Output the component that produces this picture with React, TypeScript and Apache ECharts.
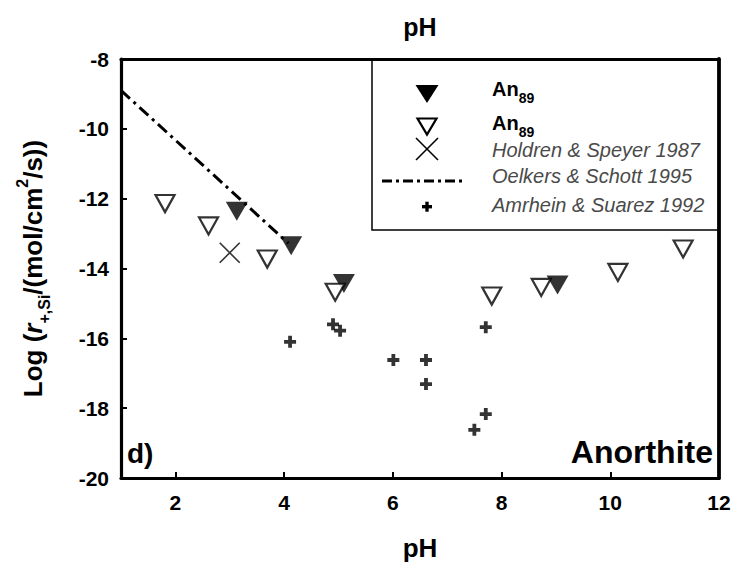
import React, { useEffect, useRef } from "react";
import * as echarts from "echarts";

// pH / log rate pairs for each data set
const filledAn89: number[][] = [
  [3.13, -12.36],
  [4.13, -13.35],
  [5.1, -14.43],
  [9.03, -14.47],
];
const openAn89: number[][] = [
  [1.81, -12.14],
  [2.61, -12.78],
  [3.69, -13.73],
  [4.94, -14.68],
  [7.82, -14.79],
  [8.73, -14.54],
  [10.14, -14.11],
  [11.34, -13.44],
];
const holdrenSpeyer: number[][] = [[3.0, -13.55]];
const oelkersSchott: number[][] = [
  [1.0, -8.9],
  [4.08, -13.28],
];
const amrheinSuarez: number[][] = [
  [4.11, -16.1],
  [4.9, -15.6],
  [5.03, -15.78],
  [6.01, -16.62],
  [6.61, -16.62],
  [6.61, -17.31],
  [7.71, -15.68],
  [7.71, -18.17],
  [7.5, -18.62],
];

const xTickValues = [2, 4, 6, 8, 10];
const xLabelValues = [2, 4, 6, 8, 10, 12];

const FONT = "'Liberation Sans', Arial, Helvetica, sans-serif";

const TRI_DOWN = "path://M0,0L22,0L11,19Z";
const PLUS = "path://M4.1,0H7.9V4.1H12V7.9H7.9V12H4.1V7.9H0V4.1H4.1Z";
const CROSS = "path://M0,0L10,10M10,0L0,10";

export default function App() {
  const ref = useRef<HTMLDivElement>(null);

  useEffect(() => {
    if (!ref.current) return;
    const chart = echarts.init(ref.current, undefined, { renderer: "svg" });

    const legendX = 427;
    const textX = 492;
    const italicStyle = {
      fontFamily: FONT,
      fontStyle: "italic",
      fontSize: 20,
      fill: "#4a4a4a",
      verticalAlign: "middle",
    };
    const anLabel = (y: number) => ({
      type: "text",
      x: textX,
      y,
      style: {
        text: "{b|An}{s|89}",
        fill: "#000",
        verticalAlign: "middle",
        rich: {
          b: { fontFamily: FONT, fontWeight: "bold", fontSize: 20, fill: "#000", lineHeight: 26, verticalAlign: "top" },
          s: { fontFamily: FONT, fontWeight: "bold", fontSize: 14, fill: "#000", lineHeight: 26, verticalAlign: "bottom" },
        },
      },
    });

    chart.setOption({
      animation: false,
      backgroundColor: "#fff",
      grid: { left: 121, right: 16, top: 59, bottom: 90, containLabel: false, outerBoundsMode: "none" },
      xAxis: [
        {
          type: "value",
          position: "bottom",
          min: 1,
          max: 12,
          splitLine: { show: false },
          axisLine: { show: true, lineStyle: { color: "#000", width: 3.2 } },
          axisTick: { show: true, inside: true, length: 6, lineStyle: { color: "#000", width: 2 }, customValues: xTickValues },
          axisLabel: {
            customValues: xLabelValues,
            margin: 14,
            color: "#000",
            fontFamily: FONT,
            fontWeight: "bold",
            fontSize: 21,
          },
          name: "pH",
          nameLocation: "middle",
          nameGap: 57,
          nameTextStyle: { color: "#000", fontFamily: FONT, fontWeight: "bold", fontSize: 26 },
        },
        {
          type: "value",
          position: "top",
          min: 1,
          max: 12,
          splitLine: { show: false },
          axisLine: { show: true, lineStyle: { color: "#000", width: 3.2 } },
          axisTick: { show: false },
          axisLabel: { show: false },
          name: "pH",
          nameLocation: "middle",
          nameGap: 20,
          nameTextStyle: { color: "#000", fontFamily: FONT, fontWeight: "bold", fontSize: 25 },
        },
      ],
      yAxis: [
        {
          type: "value",
          position: "left",
          min: -20,
          max: -8,
          interval: 2,
          splitLine: { show: false },
          axisLine: { show: true, lineStyle: { color: "#000", width: 3.2 } },
          axisTick: { show: true, inside: true, length: 6, lineStyle: { color: "#000", width: 2 } },
          axisLabel: { margin: 12, color: "#000", fontFamily: FONT, fontWeight: "bold", fontSize: 21 },
          name: "{m|Log (}{i|r}{sub|+,Si}{m|/(mol/cm}{sup|2}{m|/s))}",
          nameLocation: "middle",
          nameGap: 69,
          nameRotate: 90,
          nameTextStyle: {
            color: "#000",
            fontFamily: FONT,
            fontWeight: "bold",
            fontSize: 26,
            rich: {
              m: { fontFamily: FONT, fontWeight: "bold", fontSize: 26, color: "#000", lineHeight: 38, verticalAlign: "middle" },
              i: { fontFamily: FONT, fontWeight: "bold", fontStyle: "italic", fontSize: 26, color: "#000", lineHeight: 38, verticalAlign: "middle" },
              sub: { fontFamily: FONT, fontWeight: "bold", fontSize: 16, color: "#000", lineHeight: 38, verticalAlign: "bottom" },
              sup: { fontFamily: FONT, fontWeight: "bold", fontSize: 16, color: "#000", lineHeight: 38, verticalAlign: "top" },
            },
          },
        },
        {
          type: "value",
          position: "right",
          min: -20,
          max: -8,
          interval: 2,
          splitLine: { show: false },
          axisLine: { show: true, lineStyle: { color: "#000", width: 3.8 } },
          axisTick: { show: false },
          axisLabel: { show: false },
        },
      ],
      series: [
        {
          name: "Oelkers & Schott 1995",
          type: "line",
          data: oelkersSchott,
          symbol: "none",
          lineStyle: { color: "#000", width: 3, type: [12, 5, 3, 5] },
          z: 2,
        },
        {
          name: "Amrhein & Suarez 1992",
          type: "scatter",
          data: amrheinSuarez,
          symbol: PLUS,
          symbolSize: 12,
          itemStyle: { color: "#000" },
          z: 3,
        },
        {
          name: "Holdren & Speyer 1987",
          type: "scatter",
          data: holdrenSpeyer,
          symbol: CROSS,
          symbolSize: 20,
          itemStyle: { color: "none", borderColor: "#000", borderWidth: 1.6 },
          z: 3,
        },
        {
          name: "An89 filled",
          type: "scatter",
          data: filledAn89,
          symbol: TRI_DOWN,
          symbolSize: [22, 19],
          itemStyle: { color: "#000" },
          z: 4,
        },
        {
          name: "An89 open",
          type: "scatter",
          data: openAn89,
          symbol: TRI_DOWN,
          symbolSize: [19, 17],
          itemStyle: { color: "#fff", borderColor: "#000", borderWidth: 2.2 },
          z: 5,
        },
      ],
      graphic: [
        {
          type: "rect",
          shape: { x: 372, y: 59, width: 347, height: 171 },
          style: { fill: "none", stroke: "#000", lineWidth: 1.5 },
        },
        {
          type: "polygon",
          shape: { points: [[415.5, 85], [438.5, 85], [427, 103]] },
          style: { fill: "#000" },
        },
        {
          type: "polygon",
          shape: { points: [[417.5, 118.5], [436.5, 118.5], [427, 134.5]] },
          style: { fill: "#fff", stroke: "#000", lineWidth: 2.2 },
        },
        {
          type: "line",
          shape: { x1: legendX - 11, y1: 138, x2: legendX + 11, y2: 160 },
          style: { stroke: "#000", lineWidth: 1.6 },
        },
        {
          type: "line",
          shape: { x1: legendX + 11, y1: 138, x2: legendX - 11, y2: 160 },
          style: { stroke: "#000", lineWidth: 1.6 },
        },
        {
          type: "line",
          shape: { x1: 382, y1: 181, x2: 466, y2: 181 },
          style: { stroke: "#000", lineWidth: 3, lineDash: [10, 4, 3, 4] },
        },
        {
          type: "rect",
          shape: { x: legendX - 5, y: 205, width: 10, height: 3.4 },
          style: { fill: "#000" },
        },
        {
          type: "rect",
          shape: { x: legendX - 1.7, y: 201.7, width: 3.4, height: 10 },
          style: { fill: "#000" },
        },
        anLabel(92),
        anLabel(126),
        { type: "text", x: textX, y: 150, style: { ...italicStyle, text: "Holdren & Speyer 1987" } },
        { type: "text", x: textX, y: 176, style: { ...italicStyle, text: "Oelkers & Schott 1995" } },
        { type: "text", x: textX, y: 205, style: { ...italicStyle, text: "Amrhein & Suarez 1992" } },
        {
          type: "text",
          x: 127,
          y: 453,
          style: { text: "d)", fontFamily: FONT, fontWeight: "bold", fontSize: 28, fill: "#000", verticalAlign: "middle" },
        },
        {
          type: "text",
          x: 713,
          y: 452,
          style: {
            text: "Anorthite",
            fontFamily: FONT,
            fontWeight: "bold",
            fontSize: 32,
            fill: "#000",
            align: "right",
            verticalAlign: "middle",
          },
        },
      ],
    });

    return () => chart.dispose();
  }, []);

  return (
    <div
      ref={ref}
      style={{ position: "fixed", left: 0, top: 0, width: 735, height: 568, background: "#fff" }}
    />
  );
}
